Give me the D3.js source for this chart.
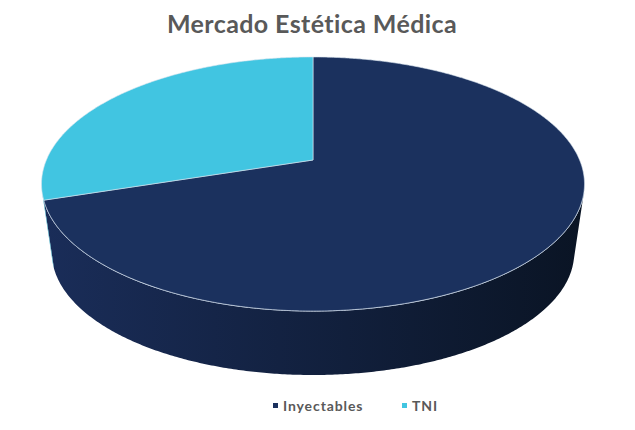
<!DOCTYPE html>
<html>
<head>
<meta charset="utf-8">
<script src="https://cdn.jsdelivr.net/npm/d3@7"></script>
<style>
  body { margin: 0; background: #fff; }
  text { font-family: Lato, "Open Sans", sans-serif; }
</style>
</head>
<body>
<div id="chart"></div>
<script>
// data
var categories = ['Inyectables', 'TNI'];
var shares = [70, 30];
var colors = ['#1b315e', '#41c5e1'];
var sideLeft = ['#1a2d59', '#35a9c4'];
var sideRight = ['#0a1424', '#1f6f82'];

var width = 635, height = 430;

var svg = d3.select('#chart').append('svg')
    .attr('width', width)
    .attr('height', height);

// title
svg.append('text')
    .attr('x', 312)
    .attr('y', 33)
    .attr('text-anchor', 'middle')
    .style('font-size', '25px')
    .style('font-weight', 700)
    .style('letter-spacing', '0.4px')
    .style('fill', '#595959')
    .text('Mercado Estética Médica');

// perspective of the disk: center of pie on screen, half sizes, tilt factor
var cx = 313, cy = 160;
var A = 266.6, B = 122.5, k = 0.189;
var depth = 69.7, shrink = 0.962;
// vanishing point of the wall lines
var fy = (cy + depth - shrink * cy) / (1 - shrink);

function topPt(a) {
    var u = Math.sin(a), v = Math.cos(a), w = 1 + k * v;
    return [cx + A * u / w, cy - B * v / w];
}
function botPt(a) {
    var p = topPt(a);
    return [cx + shrink * (p[0] - cx), cy + depth + shrink * (p[1] - cy)];
}
function arcPts(f, a0, a1) {
    var n = Math.max(4, Math.round(Math.abs(a1 - a0) * 120)), pts = [];
    for (var j = 0; j <= n; j++) pts.push(f(a0 + (a1 - a0) * j / n));
    return pts;
}

var pie = d3.pie().sort(null).value(function(d) { return d; });
var arcs = pie(shares);
var line = d3.line();

// silhouette: where the line from the vanishing point touches the rim
var cand = d3.range(Math.PI / 2, Math.PI, 0.001);
var aR = cand[d3.maxIndex(cand, function(a) {
    var p = topPt(a);
    return (p[0] - cx) / (fy - p[1]);
})];
var aL = 2 * Math.PI - aR;

var defs = svg.append('defs');
arcs.forEach(function(d, i) {
    var g = defs.append('linearGradient')
        .attr('id', 'side' + i)
        .attr('gradientUnits', 'userSpaceOnUse')
        .attr('x1', cx - 272).attr('x2', cx + 272)
        .attr('y1', 0).attr('y2', 0);
    g.append('stop').attr('offset', 0).attr('stop-color', sideLeft[i]);
    g.append('stop').attr('offset', 1).attr('stop-color', sideRight[i]);
});

svg.append('g').selectAll('path')
    .data(arcs.filter(function(d) {
        return Math.min(d.endAngle, aL) > Math.max(d.startAngle, aR);
    }))
    .enter().append('path')
    .attr('d', function(d) {
        var a0 = Math.max(d.startAngle, aR), a1 = Math.min(d.endAngle, aL);
        var pts = arcPts(topPt, a0, a1).concat(arcPts(botPt, a1, a0));
        return line(pts) + 'Z';
    })
    .attr('fill', function(d) { return 'url(#side' + d.index + ')'; });

// light rim on the front edge
svg.append('path')
    .attr('d', line(arcPts(topPt, aR, aL - 0.12)))
    .attr('fill', 'none')
    .attr('stroke', '#c9d5e8')
    .attr('stroke-width', 1);

// top faces
svg.append('g').selectAll('path')
    .data(arcs)
    .enter().append('path')
    .attr('d', function(d) {
        return line([[cx, cy]].concat(arcPts(topPt, d.startAngle, d.endAngle))) + 'Z';
    })
    .attr('fill', function(d, i) { return colors[i]; })
    .attr('stroke', '#d8e4ee')
    .attr('stroke-width', 0.6)
    .attr('stroke-linejoin', 'round');

// legend
var legendX = [273, 402];
var legend = svg.selectAll('.legend')
    .data(categories)
    .enter().append('g')
    .attr('class', 'legend')
    .attr('transform', function(d, i) { return 'translate(' + legendX[i] + ',403)'; });

legend.append('rect')
    .attr('width', 5)
    .attr('height', 5)
    .attr('fill', function(d, i) { return colors[i]; });

legend.append('text')
    .attr('x', 10)
    .attr('y', 8)
    .style('font-size', '14px')
    .style('font-weight', 700)
    .style('letter-spacing', '0.9px')
    .style('fill', '#595959')
    .text(function(d) { return d; });
</script>
</body>
</html>
